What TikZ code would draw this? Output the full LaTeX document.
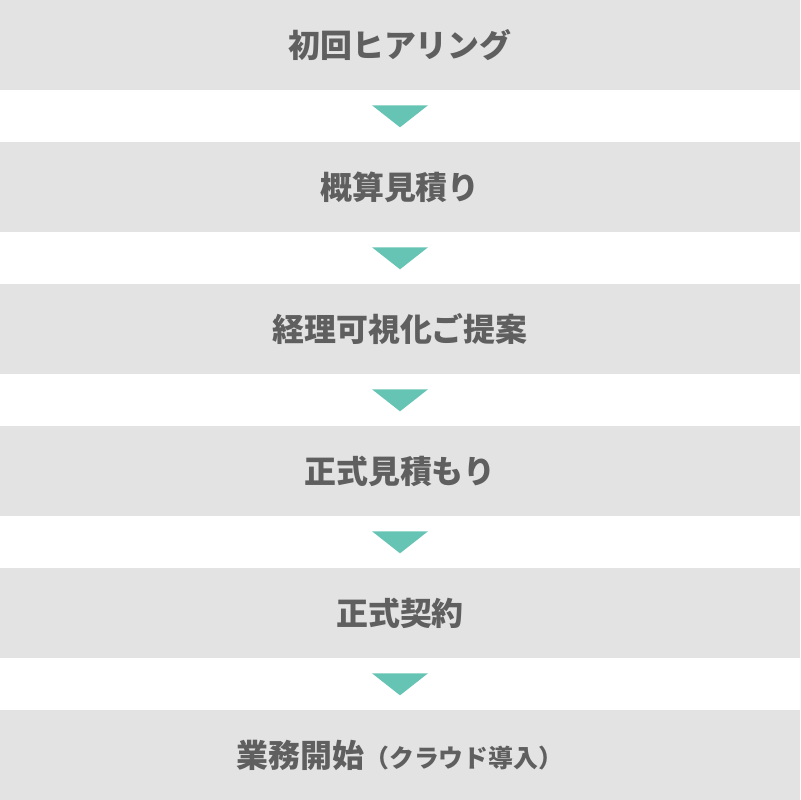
\documentclass[tikz,border=0pt]{standalone}
\usepackage{fontspec}
\usepackage{tikz}
\newfontfamily\jpfont{Noto Sans CJK JP}
\usetikzlibrary{positioning}
\definecolor{bandgray}{HTML}{E3E3E3}
\definecolor{labelgray}{HTML}{5F5F5F}
\definecolor{mint}{HTML}{66C4B4}

\begin{document}
\begin{tikzpicture}[x=0.025cm,y=-0.025cm]
\tikzstyle{stepbox} = [fill=bandgray, minimum width=20cm, minimum height=2.25cm, inner sep=0pt, text=labelgray, font=\jpfont\bfseries\fontsize{22.7}{26}\selectfont]
\tikzstyle{down arrow} = [fill=mint]

\useasboundingbox (0,0) rectangle (800,800);

\node[stepbox] (s1) at (400,45) {初回ヒアリング};
\node[stepbox] (s2) at (400,187) {概算見積り};
\node[stepbox] (s3) at (400,329) {経理可視化ご提案};
\node[stepbox] (s4) at (400,471) {正式見積もり};
\node[stepbox] (s5) at (400,613) {正式契約};
\node[stepbox] (s6) at (400,755) {業務開始{\fontsize{17.7}{22}\selectfont（クラウド導入）}};

\foreach \a in {1,...,5}
  \fill[down arrow] ([xshift=-0.7cm,yshift=-0.375cm]s\a.south) -- ([xshift=0.7cm,yshift=-0.375cm]s\a.south) -- ([yshift=-0.925cm]s\a.south) -- cycle;
\end{tikzpicture}
\end{document}
